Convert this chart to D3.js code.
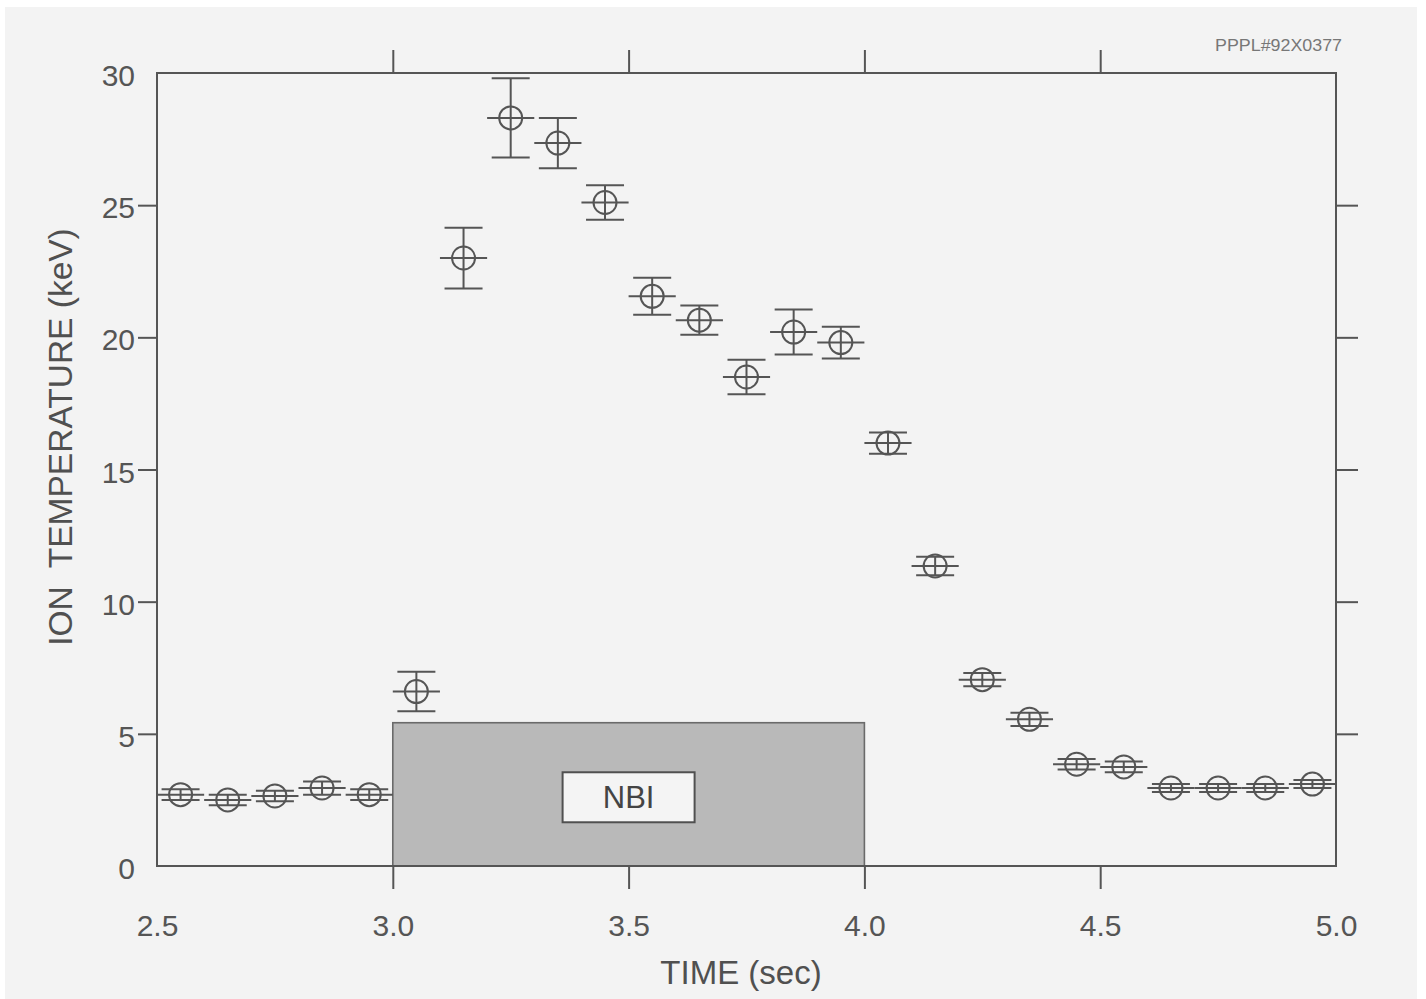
<!DOCTYPE html>
<html>
<head>
<meta charset="utf-8">
<script src="https://cdn.jsdelivr.net/npm/d3@7"></script>
<style>
  html, body { margin: 0; padding: 0; background: #ffffff; }
  svg { display: block; }
  text { font-family: "Liberation Sans", Arial, Helvetica, sans-serif; fill: #505050; }
</style>
</head>
<body>
<svg id="chart" width="1426" height="999"></svg>
<script>
// Ion temperature measurements, one per 0.1 s time bin
const times = [2.55, 2.65, 2.75, 2.85, 2.95, 3.05, 3.15, 3.25, 3.35, 3.45,
               3.55, 3.65, 3.75, 3.85, 3.95, 4.05, 4.15, 4.25, 4.35, 4.45,
               4.55, 4.65, 4.75, 4.85, 4.95];
const ionTemp = [2.7, 2.5, 2.65, 2.95, 2.7, 6.6, 23.0, 28.3, 27.35, 25.1,
                 21.55, 20.65, 18.5, 20.2, 19.8, 16.0, 11.35, 7.05, 5.55, 3.85,
                 3.75, 2.95, 2.95, 2.95, 3.1];
const tempErr = [0.2, 0.2, 0.2, 0.25, 0.2, 0.75, 1.15, 1.5, 0.95, 0.65,
                 0.7, 0.55, 0.65, 0.85, 0.6, 0.4, 0.35, 0.25, 0.25, 0.2,
                 0.2, 0.15, 0.15, 0.15, 0.15];
const timeHalfBin = 0.05;

// Neutral beam injection window
const nbiStart = 3.0;
const nbiEnd = 4.0;
const nbiLevel = 5.42;
const nbiLabelLevel = 2.6;

// Axis tick values and labels
const xTickValues = [2.5, 3.0, 3.5, 4.0, 4.5, 5.0];
const yTickValues = [0, 5, 10, 15, 20, 25, 30];
const xTitle = "TIME (sec)";
const yTitle = "ION  TEMPERATURE (keV)";
const figureTag = "PPPL#92X0377";

const ink = "#555555";
const svg = d3.select("#chart");

// paper background
svg.append("rect").attr("x", 5).attr("y", 7).attr("width", 1412).attr("height", 992)
  .attr("fill", "#f3f3f3");

const x = d3.scaleLinear().domain([2.5, 5.0]).range([157, 1336]);
const y = d3.scaleLinear().domain([0, 30]).range([866, 73]);

const [x0, x1] = x.range();
const [y0, y1] = y.range();

// NBI shaded period
svg.append("rect")
  .attr("x", x(nbiStart)).attr("y", y(nbiLevel))
  .attr("width", x(nbiEnd) - x(nbiStart)).attr("height", y(0) - y(nbiLevel))
  .attr("fill", "#b9b9b9").attr("stroke", "#6a6a6a").attr("stroke-width", 1.6);

const labelW = 132, labelH = 50;
const lx = x((nbiStart + nbiEnd) / 2);
svg.append("rect")
  .attr("x", lx - labelW / 2).attr("y", y(nbiLabelLevel) - labelH / 2)
  .attr("width", labelW).attr("height", labelH)
  .attr("fill", "#f4f4f4").attr("stroke", "#505050").attr("stroke-width", 2);
svg.append("text")
  .attr("x", lx).attr("y", y(nbiLabelLevel) + 11)
  .attr("text-anchor", "middle").attr("font-size", 31).style("fill", "#444")
  .text("NBI");

// frame
svg.append("rect")
  .attr("x", x0).attr("y", y1).attr("width", x1 - x0).attr("height", y0 - y1)
  .attr("fill", "none").attr("stroke", ink).attr("stroke-width", 2);

function styleAxis(g) {
  g.select(".domain").remove();
  g.selectAll(".tick line").attr("stroke", ink).attr("stroke-width", 2);
  g.selectAll(".tick text").attr("font-size", 30).style("fill", "#555")
    .attr("font-family", "'Liberation Sans', Arial, sans-serif");
}

// bottom axis: labels at every value, tick marks only inside the range
const gx = svg.append("g").attr("transform", `translate(0,${y0})`)
  .call(d3.axisBottom(x).tickValues(xTickValues).tickFormat(d3.format(".1f"))
    .tickSize(23).tickPadding(26));
styleAxis(gx);
gx.selectAll(".tick line").filter(d => d === 2.5 || d === 5.0).remove();

// top axis: outward tick marks only
const gxt = svg.append("g").attr("transform", `translate(0,${y1})`)
  .call(d3.axisTop(x).tickValues(xTickValues.slice(1, -1)).tickFormat("").tickSize(23));
styleAxis(gxt);

// left axis
const gy = svg.append("g").attr("transform", `translate(${x0},0)`)
  .call(d3.axisLeft(y).tickValues(yTickValues).tickSize(19).tickPadding(3));
styleAxis(gy);
gy.selectAll(".tick line").filter(d => d === 0 || d === 30).remove();
gy.selectAll(".tick text").attr("dy", "0.42em");

// right axis: outward tick marks only
const gyr = svg.append("g").attr("transform", `translate(${x1},0)`)
  .call(d3.axisRight(y).tickValues(yTickValues.slice(1, -1)).tickFormat("").tickSize(22));
styleAxis(gyr);

// data points with time-bin and temperature error bars
const pts = times.map((t, i) => ({ t, v: ionTemp[i], e: tempErr[i] }));
const capHalf = 19, radius = 11.5;
const gp = svg.append("g").attr("stroke", ink).attr("stroke-width", 2).attr("fill", "none");
const p = gp.selectAll("g.pt").data(pts).join("g").attr("class", "pt");
p.append("line")
  .attr("x1", d => x(d.t - timeHalfBin)).attr("x2", d => x(d.t + timeHalfBin))
  .attr("y1", d => y(d.v)).attr("y2", d => y(d.v));
p.append("line")
  .attr("x1", d => x(d.t)).attr("x2", d => x(d.t))
  .attr("y1", d => y(d.v + d.e)).attr("y2", d => y(d.v - d.e));
p.append("line")
  .attr("x1", d => x(d.t) - capHalf).attr("x2", d => x(d.t) + capHalf)
  .attr("y1", d => y(d.v + d.e)).attr("y2", d => y(d.v + d.e));
p.append("line")
  .attr("x1", d => x(d.t) - capHalf).attr("x2", d => x(d.t) + capHalf)
  .attr("y1", d => y(d.v - d.e)).attr("y2", d => y(d.v - d.e));
p.append("circle")
  .attr("cx", d => x(d.t)).attr("cy", d => y(d.v)).attr("r", radius);

// axis titles
svg.append("text")
  .attr("x", 741).attr("y", 984)
  .attr("text-anchor", "middle").attr("font-size", 33)
  .text(xTitle);
svg.append("text")
  .attr("transform", `translate(72,437) rotate(-90)`)
  .attr("text-anchor", "middle").attr("font-size", 33.5)
  .style("white-space", "pre")
  .text(yTitle);

// figure tag
svg.append("text")
  .attr("x", 1342).attr("y", 51).attr("text-anchor", "end")
  .attr("font-size", 16).style("fill", "#777")
  .attr("textLength", 127).attr("lengthAdjust", "spacingAndGlyphs")
  .text(figureTag);
</script>
</body>
</html>
